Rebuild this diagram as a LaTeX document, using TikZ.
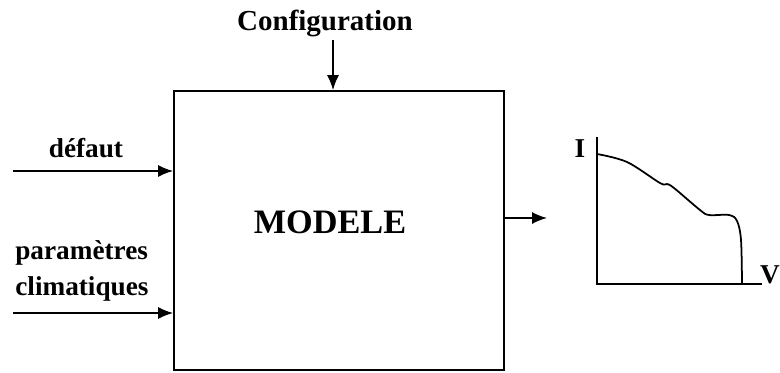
\documentclass[tikz,border=0pt]{standalone}
\usepackage{fontspec}
\setmainfont{Liberation Serif}
\usetikzlibrary{positioning, arrows.meta, calc}

\begin{document}
\begin{tikzpicture}[
    x=0.02cm, y=-0.02cm,
    block/.style={rectangle, draw, line width=1.1pt, minimum width=6.6cm, minimum height=5.58cm, inner sep=0pt},
    lbl/.style={font=\fontsize{15.5}{20}\selectfont\bfseries, inner sep=0pt},
    arrow/.style={-{Latex[length=3mm, width=2.4mm]}, line width=0.8pt},
    axis/.style={line width=1pt},
    curve/.style={line width=1pt},
]
\useasboundingbox (0,0) rectangle (780,372);

% ============ Bloc modele ============
\node[block] (modele) at (339,230.5) {};
\node[font=\fontsize{19.5}{22}\selectfont\bfseries, inner sep=0pt] (modele_txt) at (330,222.5) {MODELE};

% ============ Entrees ============
\coordinate (config_in) at (333,40);
\node[lbl, font=\fontsize{16.5}{20}\selectfont\bfseries, anchor=base] (config_lbl) at (325,31) {Configuration};

\coordinate (defaut_in) at (13,171);
\node[lbl, anchor=base] (defaut_lbl) at (86,157) {défaut};

\coordinate (clim_in) at (13,313);
\node[lbl, anchor=base west, align=left] (clim_lbl) at (15,295) {paramètres\\climatiques};

% ============ Sortie ============
\coordinate (out_end) at (547,218);

% ============ Fleches ============
\draw[arrow] (config_in) -- (config_in |- modele.north);
\draw[arrow] (defaut_in) -- (defaut_in -| modele.west);
\draw[arrow] (clim_in) -- (clim_in -| modele.west);
\draw[arrow] (out_end -| modele.east) -- (out_end);

% ============ Caracteristique I(V) ============
\coordinate (origin) at (597,284);
\coordinate (y_top) at (597,137);
\coordinate (x_end) at (762,284);
\draw[axis] (y_top) -- (origin) -- (x_end);
\node[lbl, anchor=base] (i_lbl) at (580,157) {I};
\node[lbl, anchor=base] (v_lbl) at (770,283) {V};

\draw[curve] plot[smooth, tension=0.55] coordinates {
    (597,154) (627,162) (660,183) (667,184) (674,188)
    (700,210) (709,215) (729,215) (737,221) (741,240) (742,284)};

\end{tikzpicture}
\end{document}
